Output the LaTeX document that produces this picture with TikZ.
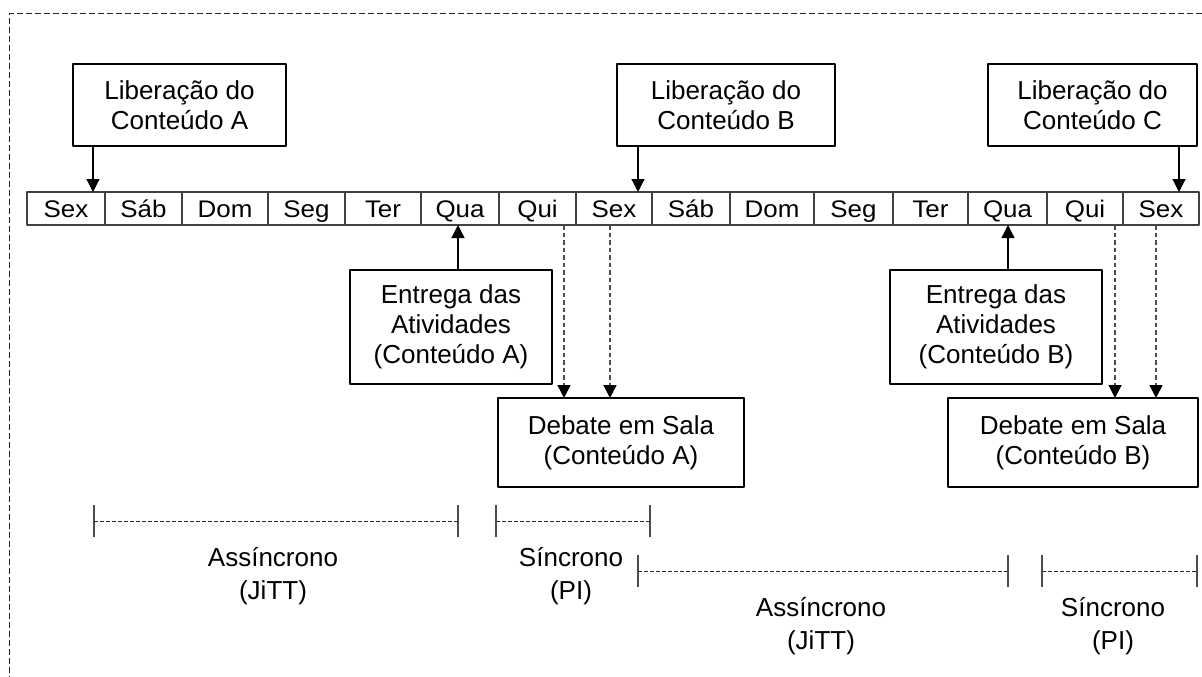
\documentclass[tikz,border=0pt]{standalone}
\usepackage{fontspec}
\setmainfont{Liberation Sans}
\newfontfamily\cellfont{Liberation Sans}[FakeStretch=1.08]
\usetikzlibrary{arrows.meta}

\begin{document}
\begin{tikzpicture}[x=1pt, y=-1pt, line join=round, >={Triangle[length=13pt,width=13pt,color=black]},
	dia/.style={draw=black!75, line width=1.1pt, minimum height=33pt, inner sep=0pt, outer sep=0pt,
		text height=17pt, text depth=0pt, font=\cellfont\fontsize{24}{28}\selectfont},
	caixa/.style={draw, line width=1.2pt, align=center, inner sep=0pt, outer sep=0pt, font=\fontsize{26}{30}\selectfont},
	seta/.style={->, line width=1.2pt},
	tracejada/.style={->, line width=1.3pt, black!70, dash pattern=on 4.5pt off 3pt},
	periodo/.style={line width=1pt, black!85, dash pattern=on 3.5pt off 2.5pt},
	marca/.style={line width=1.3pt, black!70},
	rotulo/.style={align=center, font=\fontsize{26}{33}\selectfont}]
	\useasboundingbox (0,0) rectangle (1202,677);
	\draw[line width=1pt, black!85, dash pattern=on 6pt off 3pt] (1202,14) -- (9.5,14) -- (9.5,677);
	% linha do tempo
	\foreach \e/\d/\t [count=\i] in {27/105/Sex, 105/182/Sáb, 182/268/Dom, 268/345/Seg, 345/421/Ter,
		421/499/Qua, 499/576/Qui, 576/652/Sex, 652/730/Sáb, 730/814/Dom, 814/893/Seg, 893/968/Ter,
		968/1047/Qua, 1047/1123/Qui, 1123/1199/Sex}
		\node[dia, minimum width={(\d-\e)*1pt}] (d\i) at ({(\e+\d)/2},208.5) {\t};
	% liberacao
	\node[caixa, minimum width=213pt, minimum height=82pt] (libA) at (179.5,105) {Liberação do\\Conteúdo A};
	\node[caixa, minimum width=218pt, minimum height=82pt] (libB) at (726,105) {Liberação do\\Conteúdo B};
	\node[caixa, minimum width=209pt, minimum height=82pt] (libC) at (1092.5,105) {Liberação do\\Conteúdo C};
	% entrega e debate
	\node[caixa, minimum width=202pt, minimum height=114pt] (entA) at (451,327) {Entrega das\\Atividades\\(Conteúdo A)};
	\node[caixa, minimum width=212pt, minimum height=114pt] (entB) at (996,327) {Entrega das\\Atividades\\(Conteúdo B)};
	\node[caixa, minimum width=246pt, minimum height=89pt] (debA) at (621,442.5) {Debate em Sala\\(Conteúdo A)};
	\node[caixa, minimum width=250pt, minimum height=89pt] (debB) at (1073,442.5) {Debate em Sala\\(Conteúdo B)};
	\coordinate (xA) at (93,0);
	\coordinate (xB) at (638,0);
	\coordinate (xC) at (1179,0);
	\coordinate (xE1) at (458,0);
	\coordinate (xE2) at (1008,0);
	\coordinate (xD1) at (564,0);
	\coordinate (xD2) at (610,0);
	\coordinate (xD3) at (1115,0);
	\coordinate (xD4) at (1156,0);
	\draw[seta] (libA.south -| xA) -- (d1.north -| xA);
	\draw[seta] (libB.south -| xB) -- (d8.north -| xB);
	\draw[seta] (libC.south -| xC) -- (d15.north -| xC);
	\draw[seta] (entA.north -| xE1) -- (d6.south -| xE1);
	\draw[seta] (entB.north -| xE2) -- (d13.south -| xE2);
	\draw[tracejada] (d7.south -| xD1) -- (debA.north -| xD1);
	\draw[tracejada] (d8.south -| xD2) -- (debA.north -| xD2);
	\draw[tracejada] (d14.south -| xD3) -- (debB.north -| xD3);
	\draw[tracejada] (d15.south -| xD4) -- (debB.north -| xD4);
	% periodos
	\foreach \a/\b/\y in {94/458/521, 496/650/521, 638/1008/571, 1042/1197/571} {
		\draw[periodo] (\a,\y) -- (\b,\y);
		\draw[marca] (\a,\y-16) -- (\a,\y+16) (\b,\y-16) -- (\b,\y+16);
	}
	\node[rotulo] (assA) at (273,576) {Assíncrono\\(JiTT)};
	\node[rotulo] (sinA) at (571,576) {Síncrono\\(PI)};
	\node[rotulo] (assB) at (821,626) {Assíncrono\\(JiTT)};
	\node[rotulo] (sinB) at (1113,626) {Síncrono\\(PI)};
\end{tikzpicture}
\end{document}
